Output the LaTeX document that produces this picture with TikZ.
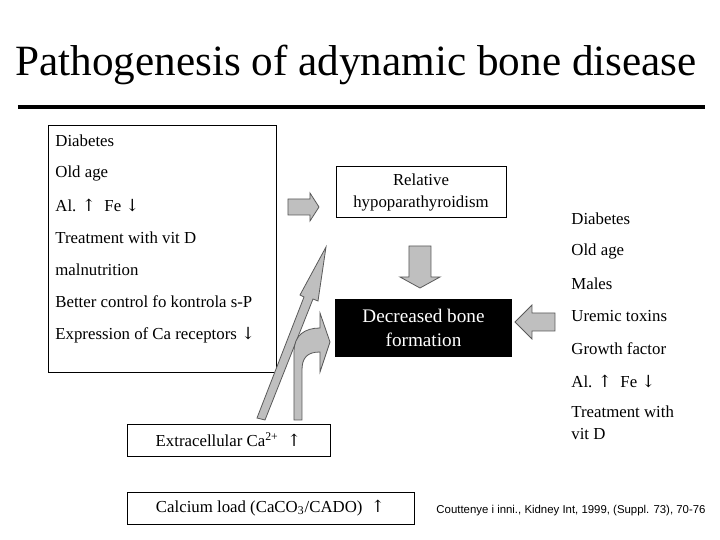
\documentclass[tikz,border=0pt]{standalone}
\usepackage{fontspec}
\setmainfont{Liberation Serif}
\newfontfamily\citefont{Liberation Sans}
\newfontfamily\arrfont{DejaVu Serif}
\newcommand{\up}{{\arrfont ↑}}
\newcommand{\dn}{{\arrfont ↓}}
\begin{document}
\begin{tikzpicture}[x=0.5pt,y=-0.5pt,
  txt/.style={font=\fontsize{8.4}{11}\selectfont,inner sep=0pt},
  lt/.style={txt,anchor=west},
  bx/.style={draw,line width=0.4pt},
  garrow/.style={fill=black!25,draw=black!65,line width=0.4pt}]
\useasboundingbox (0,0) rectangle (720,540);
\node[inner sep=0,font=\fontsize{21.6}{24}\selectfont] (title) at (356,65) {Pathogenesis of adynamic bone disease};
\draw[line width=2pt] (18,107) coordinate (r1) -- (705,107) coordinate (r2);
% left box
\draw[bx] (48,125) rectangle (276,372);
\node[lt] (l1) at (55,141) {Diabetes};
\node[lt] (l2) at (55,173) {Old age};
\node[lt] (l3) at (55,205) {Al. \up\enspace Fe \dn};
\node[lt] (l4) at (55,238) {Treatment with vit D};
\node[lt] (l5) at (55,270) {malnutrition};
\node[lt] (l6) at (55,302) {Better control fo kontrola s-P};
\node[lt] (l7) at (55,335) {Expression of Ca receptors \dn};
% relative box
\node[bx,txt,minimum width=85pt,minimum height=25.5pt,align=center] (rel) at (421,192) {Relative\\hypoparathyroidism};
% black box
\node[fill=black,txt,text=white,minimum width=88.5pt,minimum height=29pt,align=center,font=\fontsize{9.6}{12}\selectfont] (dec) at (423.5,328) {Decreased bone\\formation};
% right list
\node[lt] (r1t) at (571,219) {Diabetes};
\node[lt] (r2t) at (571,251) {Old age};
\node[lt] (r3t) at (571,284) {Males};
\node[lt] (r4t) at (571,316) {Uremic toxins};
\node[lt] (r5t) at (571,349) {Growth factor};
\node[lt] (r6t) at (571,381) {Al. \up\enspace Fe \dn};
\node[lt,align=left] (r7t) at (571,423) {Treatment with\\vit D};
% bottom boxes
\node[bx,txt,minimum width=101.5pt,minimum height=16pt] (ext) at (228.5,440) {Extracellular Ca\textsuperscript{2+}\enspace \up};
\node[bx,txt,minimum width=143.5pt,minimum height=16pt] (cal) at (270.5,508) {Calcium load (CaCO\textsubscript{3}/CADO)\enspace \up};
\node[inner sep=0,font=\citefont\fontsize{5.7}{6}\selectfont] (cite) at (571,511) {Couttenye i inni., Kidney Int, 1999, (Suppl. 73), 70-76};
% block arrows
\draw[garrow] (288,199) -- (310,199) -- (310,193) -- (319,207) -- (310,221) -- (310,215) -- (288,215) -- cycle;
\draw[garrow] (409,246) -- (431,246) -- (431,277) -- (440,277) -- (420,288) -- (400,277) -- (409,277) -- cycle;
\draw[garrow] (555,313) -- (532,313) -- (532,305) -- (515,322) -- (532,339) -- (532,331) -- (555,331) -- cycle;
% thin long arrow
\draw[garrow] (257,418) -- (304,297) -- (300,295) -- (326,247) -- (318,301) -- (313,299) -- (265,420) -- cycle;
% curved arrow
\draw[garrow] (294,420) -- (294,352) .. controls (294,335) and (305,328) .. (320,328)
  -- (320,313) -- (330,342) -- (320,372) -- (320,352)
  .. controls (307,352) and (302,358) .. (302,370) -- (302,420) -- cycle;
\end{tikzpicture}
\end{document}
